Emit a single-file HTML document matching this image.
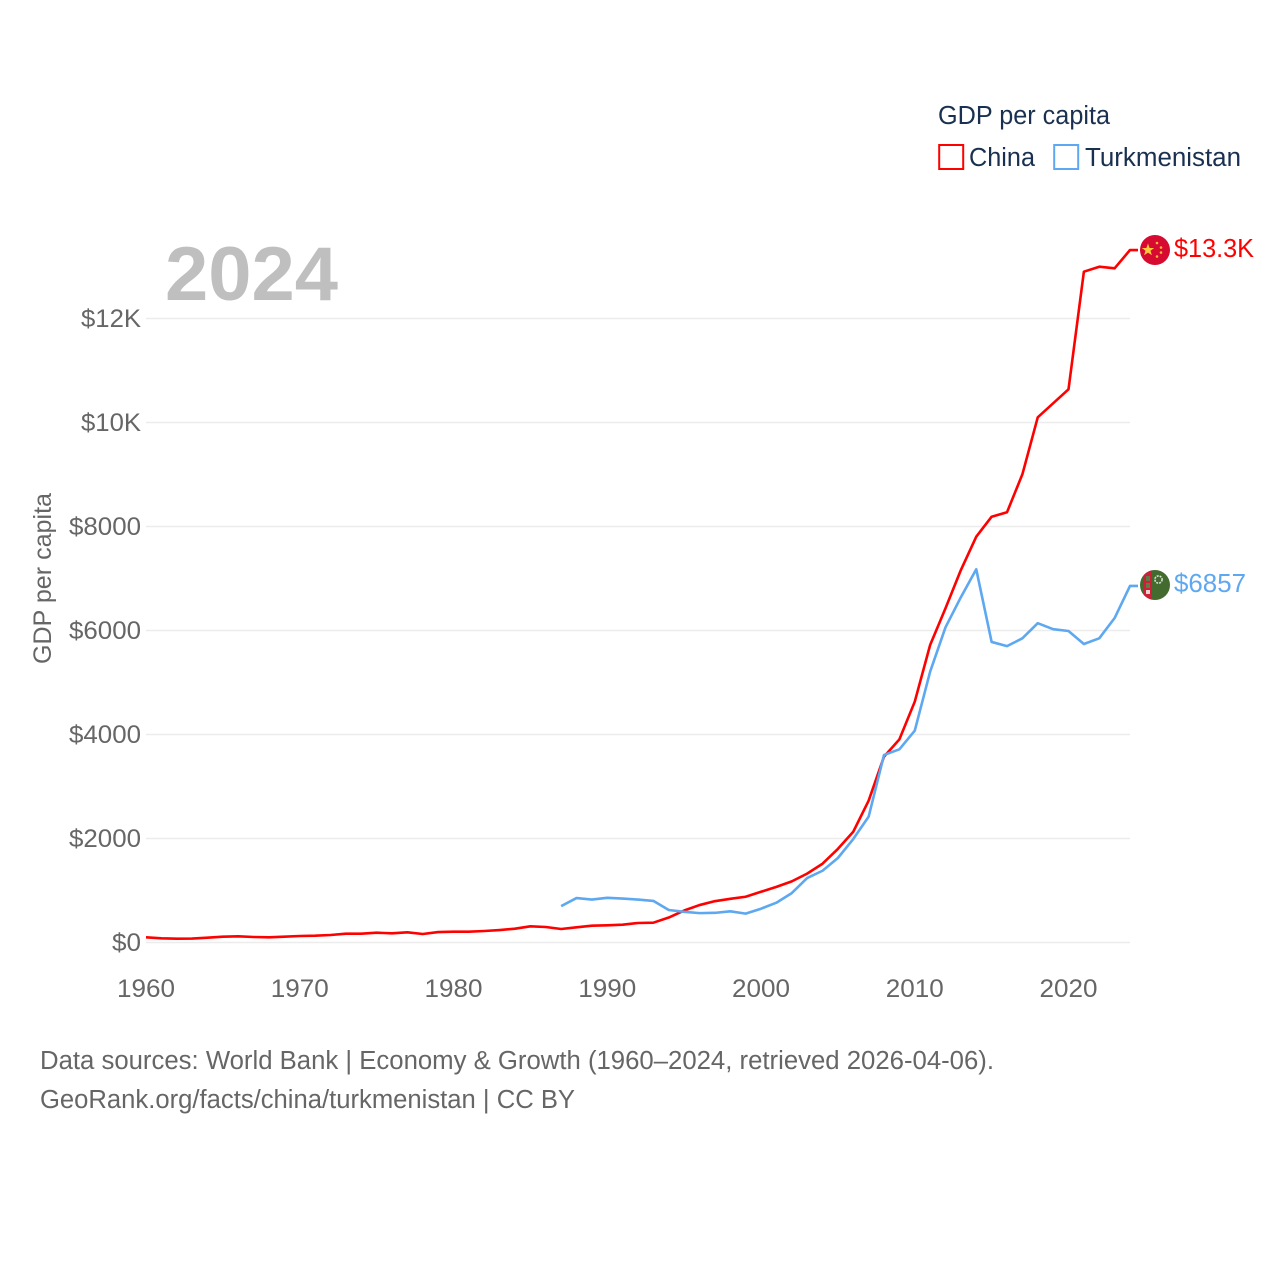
<!DOCTYPE html>
<html lang="en">
<head>
<meta charset="utf-8">
<title>GDP per capita: China and Turkmenistan</title>
<style>
html,body{margin:0;padding:0;background:#fff;}
svg{display:block;}
text{font-family:"Liberation Sans",Arial,sans-serif;}
</style>
</head>
<body>
<svg id="chart" xmlns="http://www.w3.org/2000/svg" width="1280" height="1280" viewBox="0 0 1280 1280">
  <rect x="0" y="0" width="1280" height="1280" fill="#ffffff"/>
  <g id="grid"></g>
  <g id="yticks"></g>
  <g id="xticks"></g>
  <text x="165" y="300" font-size="76" font-weight="700" fill="#bfbfbf" textLength="173" lengthAdjust="spacingAndGlyphs">2024</text>
  <text transform="translate(51,578.5) rotate(-90)" text-anchor="middle" font-size="25" fill="#666666" textLength="171" lengthAdjust="spacingAndGlyphs">GDP per capita</text>
  <g id="series"></g>

  <g>
    <text x="938" y="124" font-size="25.5" fill="#1a3050" textLength="172" lengthAdjust="spacingAndGlyphs">GDP per capita</text>
    <rect x="939.2" y="145" width="24" height="24" fill="#ffffff" stroke="#ff0000" stroke-width="2"/>
    <text x="969" y="166" font-size="25.5" fill="#1a3050" textLength="66" lengthAdjust="spacingAndGlyphs">China</text>
    <rect x="1054.2" y="145" width="24" height="24" fill="#ffffff" stroke="#5da8f0" stroke-width="2"/>
    <text x="1085" y="166" font-size="25.5" fill="#1a3050" textLength="156" lengthAdjust="spacingAndGlyphs">Turkmenistan</text>
  </g>

  <g id="flag-china">
    <circle cx="1155" cy="250" r="15" fill="#d70a31"/>
    <polygon points="1148,243.5 1149.6,248 1154.2,248 1150.5,250.8 1151.9,255.2 1148,252.6 1144.1,255.2 1145.5,250.8 1141.8,248 1146.4,248" fill="#fdc83a"/>
    <circle cx="1157" cy="243" r="1.3" fill="#f9b83a"/>
    <circle cx="1161" cy="247.5" r="1.3" fill="#f9b83a"/>
    <circle cx="1161" cy="252.5" r="1.3" fill="#f9b83a"/>
    <circle cx="1157" cy="256.5" r="1.3" fill="#f9b83a"/>
  </g>
  <g id="flag-turkmenistan">
    <defs><clipPath id="tm-clip"><circle cx="1155" cy="585" r="15"/></clipPath></defs>
    <circle cx="1155" cy="585" r="15" fill="#436a2f"/>
    <rect x="1144" y="570" width="8" height="30" fill="#cc1f38" clip-path="url(#tm-clip)"/>
    <rect x="1146" y="576" width="4" height="5" fill="#5f7a45"/>
    <rect x="1146" y="583" width="4" height="5" fill="#5f7a45"/>
    <rect x="1146" y="590" width="4" height="4" fill="#e3d9d0"/>
    <circle cx="1158.5" cy="579.5" r="3.6" fill="none" stroke="#d5dfcd" stroke-width="1.6" stroke-dasharray="2 1"/>
  </g>
  <g id="value-labels">
    <text x="1174" y="257" font-size="25.5" fill="#ff0000" textLength="80" lengthAdjust="spacingAndGlyphs">$13.3K</text>
    <text x="1174" y="592" font-size="25.5" fill="#5da8f0" textLength="72" lengthAdjust="spacingAndGlyphs">$6857</text>
  </g>

  <g>
    <text x="40" y="1069" font-size="25.5" fill="#666666" textLength="954" lengthAdjust="spacingAndGlyphs">Data sources: World Bank | Economy &amp; Growth (1960–2024, retrieved 2026-04-06).</text>
    <text x="40" y="1108" font-size="25.5" fill="#666666" textLength="535" lengthAdjust="spacingAndGlyphs">GeoRank.org/facts/china/turkmenistan | CC BY</text>
  </g>
</svg>
<script>
const chinaYears = [1960,1961,1962,1963,1964,1965,1966,1967,1968,1969,1970,1971,1972,1973,1974,1975,1976,1977,1978,1979,1980,1981,1982,1983,1984,1985,1986,1987,1988,1989,1990,1991,1992,1993,1994,1995,1996,1997,1998,1999,2000,2001,2002,2003,2004,2005,2006,2007,2008,2009,2010,2011,2012,2013,2014,2015,2016,2017,2018,2019,2020,2021,2022,2023,2024];
const chinaValues = [100,80,73,76,92,112,119,106,100,112,125,131,144,169,169,188,177,196,163,200,208,208,221,240,265,311,298,260,292,323,330,342,375,381,480,615,720,795,840,880,975,1070,1175,1325,1515,1800,2130,2727,3574,3907,4631,5721,6427,7163,7804,8188,8273,9004,10100,10369,10638,12900,12996,12965,13317];
const turkmenistanYears = [1987,1988,1989,1990,1991,1992,1993,1994,1995,1996,1997,1998,1999,2000,2001,2002,2003,2004,2005,2006,2007,2008,2009,2010,2011,2012,2013,2014,2015,2016,2017,2018,2019,2020,2021,2022,2023,2024];
const turkmenistanValues = [700,855,825,860,845,825,800,625,590,565,570,600,555,650,765,950,1240,1380,1625,1990,2420,3606,3715,4073,5208,6061,6640,7177,5780,5700,5850,6140,6025,5990,5740,5850,6240,6857];
const yTickValues = [0,2000,4000,6000,8000,10000,12000];
const yTickLabels = ["$0","$2000","$4000","$6000","$8000","$10K","$12K"];
const xTickValues = [1960,1970,1980,1990,2000,2010,2020];
const xTickLabels = ["1960","1970","1980","1990","2000","2010","2020"];

const NS = "http://www.w3.org/2000/svg";
function xScale(year) { return 146 + (year - 1960) * (1130 - 146) / (2024 - 1960); }
function yScale(value) { return 942.5 - value * (942.5 - 318.5) / 12000; }

const gridLayer = document.getElementById("grid");
const yLayer = document.getElementById("yticks");
const xLayer = document.getElementById("xticks");
const seriesLayer = document.getElementById("series");

yTickValues.forEach(function (value, i) {
  const line = document.createElementNS(NS, "line");
  
  
  line.setAttribute("x1", 146);
  line.setAttribute("x2", 1130);
  line.setAttribute("y1", yScale(value));
  line.setAttribute("y2", yScale(value));
  line.setAttribute("stroke", "#ececec");
  line.setAttribute("stroke-width", "1.6");
  gridLayer.appendChild(line);

  const label = document.createElementNS(NS, "text");
  
  
  label.setAttribute("x", 141);
  label.setAttribute("y", yScale(value) + 8.5);
  label.setAttribute("text-anchor", "end");
  label.setAttribute("font-size", "25");
  label.setAttribute("fill", "#666666");
  label.setAttribute("textLength", yTickLabels[i].length === 2 ? 29 : (yTickLabels[i].length === 4 ? 60 : 72));
  label.setAttribute("lengthAdjust", "spacingAndGlyphs");
  label.textContent = yTickLabels[i];
  yLayer.appendChild(label);
});

xTickValues.forEach(function (year, i) {
  const label = document.createElementNS(NS, "text");
  
  
  label.setAttribute("x", xScale(year));
  label.setAttribute("y", 997);
  label.setAttribute("text-anchor", "middle");
  label.setAttribute("font-size", "25");
  label.setAttribute("fill", "#666666");
  label.setAttribute("textLength", 58);
  label.setAttribute("lengthAdjust", "spacingAndGlyphs");
  label.textContent = xTickLabels[i];
  xLayer.appendChild(label);
});

function pathFor(years, values) {
  const pts = years.map(function (y, i) { return xScale(y).toFixed(2) + " " + yScale(values[i]).toFixed(2); });
  const lastY = yScale(values[values.length - 1]).toFixed(2);
  return "M" + pts.join("L") + "L1138 " + lastY;
}

const turkmenistanLine = document.createElementNS(NS, "path");


turkmenistanLine.setAttribute("d", pathFor(turkmenistanYears, turkmenistanValues));
turkmenistanLine.setAttribute("fill", "none");
turkmenistanLine.setAttribute("stroke", "#5da8f0");
turkmenistanLine.setAttribute("stroke-width", "2.6");
turkmenistanLine.setAttribute("stroke-linejoin", "round");
seriesLayer.appendChild(turkmenistanLine);

const chinaLine = document.createElementNS(NS, "path");


chinaLine.setAttribute("d", pathFor(chinaYears, chinaValues));
chinaLine.setAttribute("fill", "none");
chinaLine.setAttribute("stroke", "#ff0000");
chinaLine.setAttribute("stroke-width", "2.6");
chinaLine.setAttribute("stroke-linejoin", "round");
seriesLayer.appendChild(chinaLine);
seriesLayer.appendChild(turkmenistanLine);
</script>
</body>
</html>
